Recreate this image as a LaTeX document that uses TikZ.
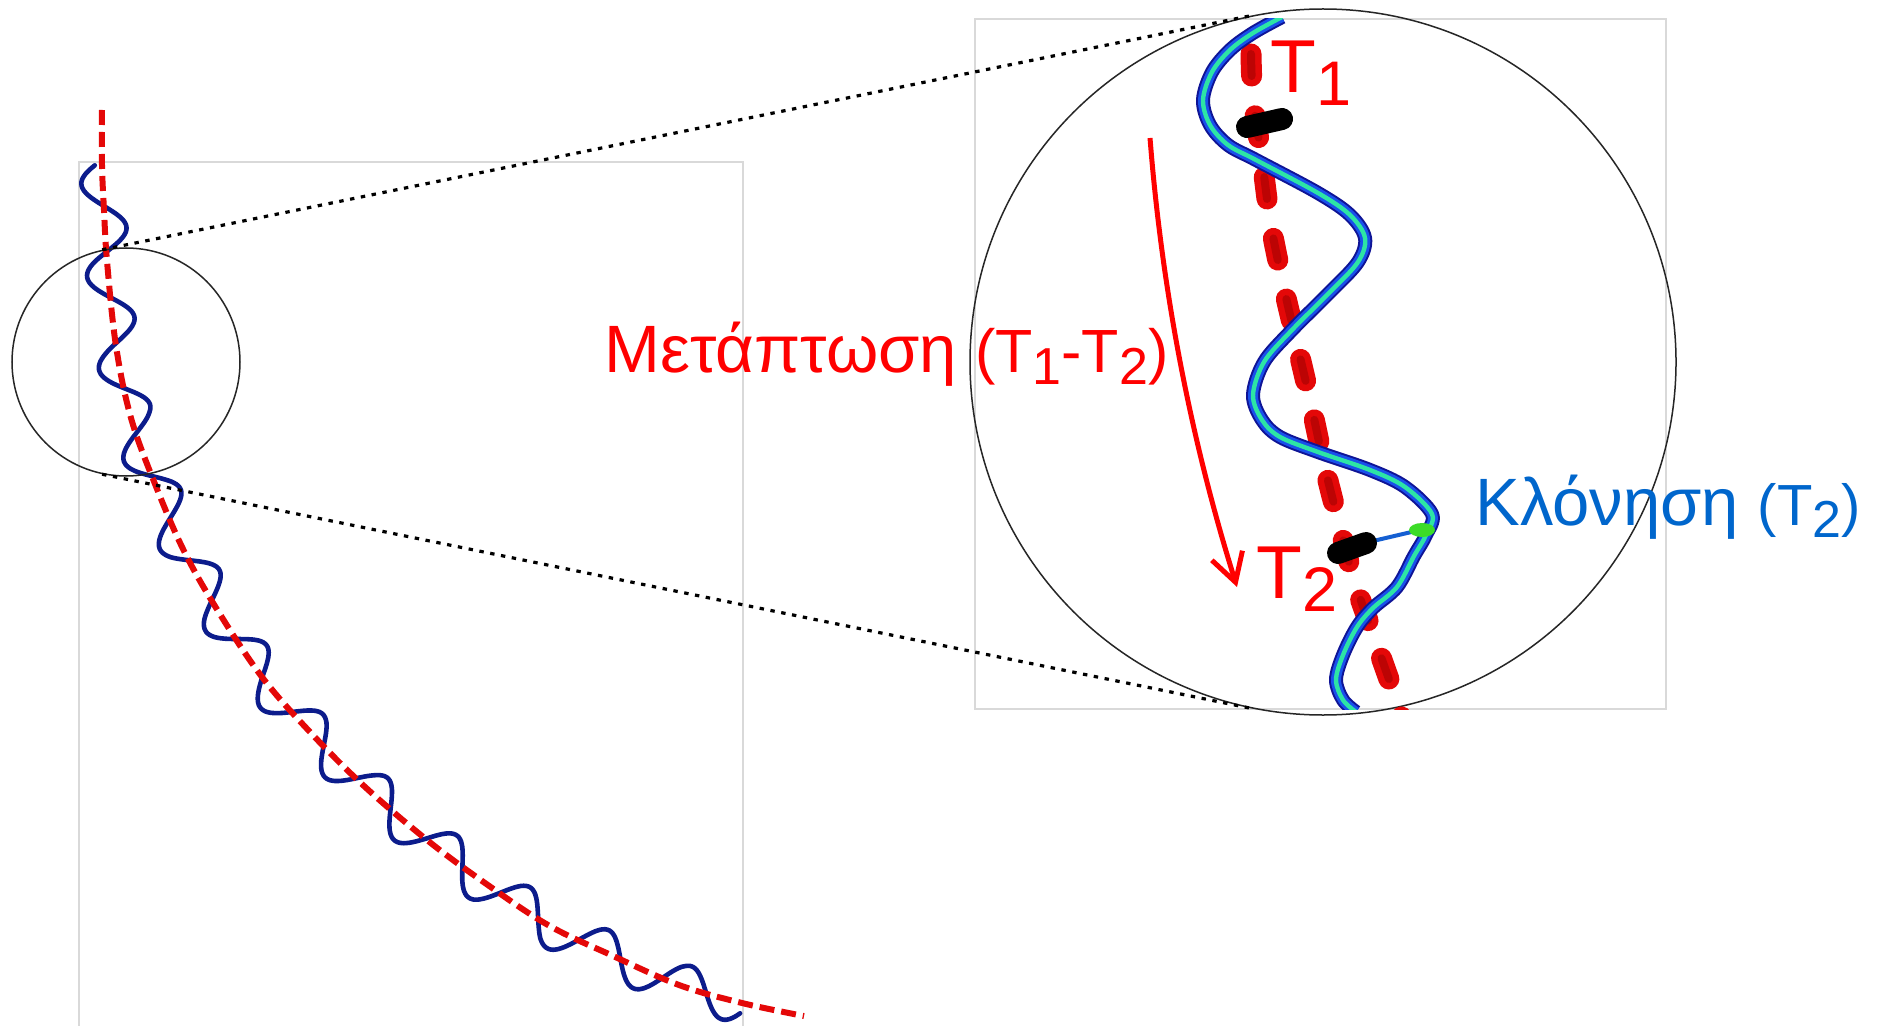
\documentclass[tikz,border=0pt]{standalone}
\usepackage{fontspec}
\setmainfont{Liberation Sans}
\usetikzlibrary{arrows.meta}

\definecolor{navy}{RGB}{12,28,140}
\definecolor{framegray}{RGB}{217,217,217}
\definecolor{txtred}{RGB}{255,0,0}
\definecolor{txtblue}{RGB}{0,102,204}
\definecolor{glowdark}{RGB}{15,20,150}
\definecolor{glowblue}{RGB}{25,80,235}
\definecolor{glowcyan}{RGB}{45,228,165}
\definecolor{dashred}{RGB}{228,8,8}
\definecolor{darkred}{RGB}{140,0,0}
\definecolor{markgreen}{RGB}{60,220,40}
\definecolor{linkblue}{RGB}{20,95,210}

\newcommand\lowsub[1]{\raisebox{-6pt}{\fontsize{26pt}{27pt}\selectfont #1}}
\newcommand\lowbig[1]{\raisebox{-6.5pt}{\fontsize{31.5pt}{32pt}\selectfont #1}}

% ---- compute the helix wave around the base curve (pixel units) ----
\def\BX{{102,104,107,116,131,155,184,218,262,310,364,427,485,548,611,679,743}}
\def\BY{{165,210,261,346,418,484,551,611,677,732,786,840,883,925,955,985,1003}}
\def\wamp{21.5}
\def\wlam{92}
\def\wphase{5}
\newcommand\wsegnormal[1]{%
  \pgfmathtruncatemacro\wsi{max(0,min(15,#1))}%
  \pgfmathtruncatemacro\wsj{\wsi+1}%
  \pgfmathsetmacro\wdx{\BX[\wsj]-\BX[\wsi]}%
  \pgfmathsetmacro\wdy{\BY[\wsj]-\BY[\wsi]}%
  \pgfmathsetmacro\wdl{veclen(\wdx,\wdy)}%
  \pgfmathsetmacro\wnx{-\wdy/\wdl}%
  \pgfmathsetmacro\wny{\wdx/\wdl}%
}
\newcommand\wvertexnormal[1]{%
  \wsegnormal{#1-1}\let\wax\wnx\let\way\wny
  \wsegnormal{#1}%
  \pgfmathsetmacro\wtx{\wax+\wnx}%
  \pgfmathsetmacro\wty{\way+\wny}%
  \pgfmathsetmacro\wtl{veclen(\wtx,\wty)}%
  \pgfmathsetmacro\wvx{\wtx/\wtl}%
  \pgfmathsetmacro\wvy{\wty/\wtl}%
}
\xdef\wavelist{}
\xdef\wS{0}
\foreach \k in {0,...,15}{%
  \wvertexnormal{\k}\let\wAx\wvx\let\wAy\wvy
  \pgfmathtruncatemacro\wkk{\k+1}%
  \wvertexnormal{\wkk}\let\wBx\wvx\let\wBy\wvy
  \pgfmathsetmacro\wpax{\BX[\k]}%
  \pgfmathsetmacro\wpay{\BY[\k]}%
  \pgfmathsetmacro\wpbx{\BX[\wkk]}%
  \pgfmathsetmacro\wpby{\BY[\wkk]}%
  \pgfmathsetmacro\wL{veclen(\wpbx-\wpax,\wpby-\wpay)}%
  \pgfmathtruncatemacro\wN{max(1,round(\wL/4))}%
  \pgfmathtruncatemacro\wNm{\wN-1}%
  \foreach \j in {0,...,\wNm}{%
    \pgfmathsetmacro\wu{\j/\wN}%
    \pgfmathsetmacro\wmx{(1-\wu)*\wAx+\wu*\wBx}%
    \pgfmathsetmacro\wmy{(1-\wu)*\wAy+\wu*\wBy}%
    \pgfmathsetmacro\wml{veclen(\wmx,\wmy)}%
    \pgfmathsetmacro\wph{((\wS+\wu*\wL+\wphase)/\wlam)*360}%
    \pgfmathsetmacro\woff{\wamp*sin(\wph)/\wml}%
    \pgfmathsetmacro\wx{\wpax+\wu*(\wpbx-\wpax)+\woff*\wmx}%
    \pgfmathsetmacro\wy{\wpay+\wu*(\wpby-\wpay)+\woff*\wmy}%
    \xdef\wavelist{\wavelist(\wx,\wy) }%
  }%
  \pgfmathsetmacro\wSn{\wS+\wL}%
  \global\let\wS\wSn
}
\wvertexnormal{16}
\pgfmathsetmacro\wph{((\wS+\wphase)/\wlam)*360}
\pgfmathsetmacro\woff{\wamp*sin(\wph)}
\pgfmathsetmacro\wx{743+\woff*\wvx}
\pgfmathsetmacro\wy{1003+\woff*\wvy}
\xdef\wavelist{\wavelist(\wx,\wy)}

\begin{document}
\begin{tikzpicture}[x=0.5pt, y=-0.5pt,
  frame/.style={draw=framegray, line width=0.6pt},
  lensring/.style={circle, draw=black!85, line width=0.75pt, inner sep=0pt},
  zoomline/.style={black, line width=1.6pt, dash pattern=on 2.2pt off 3.3pt},
  pathred/.style={dashred, line width=3pt, dash pattern=on 7.5pt off 3.5pt},
  helixline/.style={navy, line width=2.3pt, line join=round, line cap=round},
  bigred/.style={dashred, line width=10.5pt, line cap=round, dash pattern=on 11pt off 20pt},
  bigredcore/.style={darkred, opacity=0.45, line width=4pt, line cap=round, dash pattern=on 11pt off 20pt},
  glowwave/.style={glowdark, line width=7pt, line join=round,
    postaction={draw=glowblue, line width=5pt},
    postaction={draw=glowcyan, line width=2.2pt}},
  marker/.style={black, line width=11pt, line cap=round},
  redlabel/.style={anchor=base west, inner sep=0pt, text=txtred},
  bluelabel/.style={anchor=base west, inner sep=0pt, text=txtblue},
  bigfont/.style={font=\fontsize{33.5pt}{36pt}\selectfont},
  tfont/.style={font=\fontsize{37.5pt}{40pt}\selectfont}
]
\fill[white] (0,0) rectangle (1882,1026);
\useasboundingbox (0,0) rectangle (1882,1026);

% frames
\draw[frame] (79,1030) -- (79,162) -- (743,162) -- (743,1030);
\draw[frame] (975,19) rectangle (1666,709);

% left: wave and precession curve
\edef\wavepath{\noexpand\draw[helixline] plot[smooth, tension=0.4] coordinates {\wavelist};}
\wavepath
\draw[pathred] plot[smooth, tension=0.6] coordinates {(102,110) (102,165) (104,210) (107,261) (116,346) (131,418) (155,484) (184,551) (218,611) (262,677) (310,732) (364,786) (427,840) (485,883) (548,925) (611,955) (679,985) (742,1003) (804,1016)};

% circles
\node[lensring, minimum size=114pt] (lens) at (126,362) {};
\node[lensring, minimum size=353pt] (mag) at (1323,362) {};

% zoom lines
\draw[zoomline] (lens.102) -- (mag.102);
\draw[zoomline] (lens.258) -- (mag.258);

% magnified view
\begin{scope}
\clip (975,19) rectangle (1666,709);
\draw[bigred] plot[smooth] coordinates {(1251,54) (1253,100) (1262,160) (1270,220) (1282,280) (1296,340) (1310,400) (1323,460) (1338,520) (1354,580) (1375,640) (1398,705) (1402,720)};
\draw[bigredcore] plot[smooth] coordinates {(1251,54) (1253,100) (1262,160) (1270,220) (1282,280) (1296,340) (1310,400) (1323,460) (1338,520) (1354,580) (1375,640) (1398,705) (1402,720)};
\draw[glowwave] plot[smooth, tension=0.55] coordinates {(1282,17) (1253,33) (1230,50) (1212,72) (1203,100) (1210,125) (1228,145) (1256,160) (1318,193) (1350,215) (1365,238) (1358,262) (1330,292) (1291,331) (1264,362) (1253,395) (1262,420) (1280,437) (1318,452) (1370,470) (1405,487) (1432,514) (1426,535) (1414,556) (1397,587) (1373,608) (1357,627) (1343,655) (1336,680) (1343,700) (1356,712)};
\end{scope}

% markers
\draw[marker] (1247,127) -- (1282,119);
\draw[linkblue, line width=2pt] (1343,548) -- (1420,530);
\draw[marker] (1338,553) -- (1366,543);
\fill[markgreen] (1422,530) ellipse (6.5pt and 3.5pt);

% precession arrow
\coordinate (arrS) at (1150,138);
\coordinate (arrE) at (1237,587);
\draw[txtred, line width=2.5pt, -{Straight Barb[length=14pt,width=16pt]}] (arrS) .. controls (1162,291) and (1191,440) .. (arrE);

% labels
\node[redlabel, tfont] (t1) at (1270,93) {T\lowbig{1}};
\node[redlabel, tfont] (t2) at (1256,598) {T\lowbig{2}};
\node[redlabel, bigfont] (mt) at (604,372) {Μετάπτωση\hspace{9pt}{\fontsize{30.5pt}{31pt}\selectfont(T\lowsub{1}-T\lowsub{2})}};
\node[bluelabel, bigfont] (kl) at (1475,525) {Κλόνηση {\fontsize{29pt}{30pt}\selectfont(T\lowsub{2})}};
\end{tikzpicture}
\end{document}
